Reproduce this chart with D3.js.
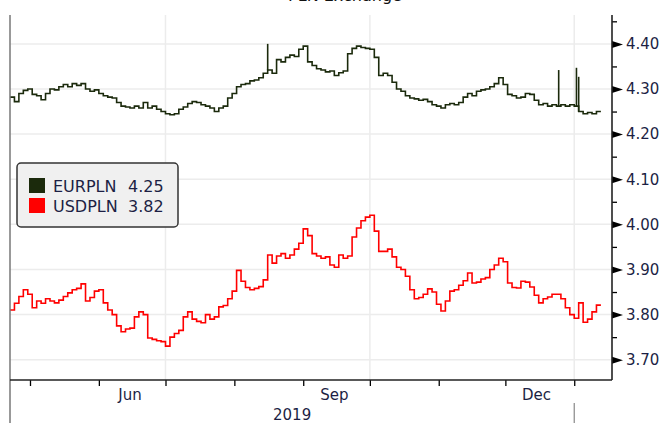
<!DOCTYPE html>
<html>
<head>
<meta charset="utf-8">
<script src="https://cdn.jsdelivr.net/npm/d3@7"></script>
<style>
  body { margin: 0; background: #fff; }
  svg { display: block; font-family: "DejaVu Sans", Verdana, sans-serif; }
</style>
</head>
<body>
<div id="chart"></div>
<script>
// one value every 2 days, starting 2019-04-22
const startDay = new Date(2019, 3, 22);
const stepDays = 2;

const eurpln = [
  4.282, 4.272, 4.290, 4.297, 4.300, 4.288, 4.285, 4.276, 4.290, 4.300,
  4.298, 4.305, 4.310, 4.305, 4.312, 4.308, 4.312, 4.300, 4.295, 4.298,
  4.290, 4.285, 4.282, 4.280, 4.270, 4.262, 4.260, 4.258, 4.262, 4.258,
  4.270, 4.258, 4.262, 4.255, 4.250, 4.245, 4.243, 4.245, 4.255, 4.260,
  4.268, 4.272, 4.270, 4.265, 4.262, 4.258, 4.250, 4.258, 4.262, 4.280,
  4.290, 4.305, 4.310, 4.312, 4.318, 4.320, 4.325, 4.335, 4.342, 4.335,
  4.365, 4.360, 4.370, 4.375, 4.372, 4.388, 4.395, 4.360, 4.352, 4.345,
  4.342, 4.338, 4.340, 4.330, 4.336, 4.340, 4.378, 4.390, 4.395, 4.392,
  4.390, 4.388, 4.370, 4.330, 4.335, 4.330, 4.315, 4.300, 4.295, 4.285,
  4.280, 4.278, 4.275, 4.277, 4.272, 4.265, 4.262, 4.258, 4.265, 4.268,
  4.265, 4.270, 4.282, 4.290, 4.285, 4.295, 4.298, 4.300, 4.305, 4.312,
  4.325, 4.310, 4.288, 4.285, 4.280, 4.282, 4.290, 4.288, 4.275, 4.265,
  4.268, 4.262, 4.265, 4.262, 4.265, 4.262, 4.265, 4.262, 4.250, 4.245,
  4.248, 4.245, 4.250, 4.250
];

const usdpln = [
  3.810, 3.825, 3.840, 3.855, 3.845, 3.815, 3.830, 3.825, 3.835, 3.830,
  3.826, 3.832, 3.840, 3.848, 3.855, 3.858, 3.868, 3.830, 3.838, 3.852,
  3.855, 3.826, 3.810, 3.800, 3.775, 3.762, 3.768, 3.770, 3.795, 3.806,
  3.800, 3.748, 3.745, 3.742, 3.740, 3.730, 3.750, 3.758, 3.765, 3.795,
  3.806, 3.790, 3.785, 3.782, 3.800, 3.790, 3.795, 3.817, 3.820, 3.835,
  3.852, 3.898, 3.874, 3.860, 3.855, 3.858, 3.862, 3.877, 3.932, 3.914,
  3.930, 3.935, 3.925, 3.932, 3.945, 3.958, 3.990, 3.975, 3.935, 3.930,
  3.925, 3.928, 3.910, 3.905, 3.932, 3.925, 3.930, 3.972, 3.992, 4.008,
  4.016, 4.020, 3.985, 3.940, 3.940, 3.945, 3.928, 3.905, 3.900, 3.885,
  3.855, 3.835, 3.838, 3.845, 3.857, 3.850, 3.823, 3.808, 3.830, 3.852,
  3.855, 3.865, 3.875, 3.892, 3.870, 3.872, 3.879, 3.882, 3.900, 3.910,
  3.925, 3.917, 3.870, 3.860, 3.859, 3.874, 3.872, 3.861, 3.843, 3.826,
  3.835, 3.839, 3.845, 3.845, 3.835, 3.815, 3.800, 3.792, 3.826, 3.783,
  3.790, 3.806, 3.821, 3.821
];

// intraday highs of EURPLN that stick out of the line
const eurSpikeDays = ['2019-08-16', '2019-12-25', '2020-01-02', '2020-01-03'];
const eurSpikeHighs = [4.400, 4.342, 4.347, 4.327];

const seriesNames = ['EURPLN', 'USDPLN'];
const seriesColors = ['#1b2a0c', '#ff0000'];
const lastValues = ['4.25', '3.82'];

const yTicks = [3.70, 3.80, 3.90, 4.00, 4.10, 4.20, 4.30, 4.40];
const yMinorTicks = [3.75, 3.85, 3.95, 4.05, 4.15, 4.25, 4.35, 4.45];
const monthLabels = ['Jun', 'Sep', 'Dec'];
const yearLabel = '2019';
const titleText = 'PLN Exchange';

const W = 660, H = 423;
const box = { left: 10, right: 612, top: 15, bottom: 380 };

const svg = d3.select('#chart').append('svg')
  .attr('width', W).attr('height', H);

const x = d3.scaleTime()
  .domain([new Date(2019, 3, 22), new Date(2020, 0, 18)])
  .range([box.left, box.right]);

const y = d3.scaleLinear()
  .domain([3.655, 4.464])
  .range([box.bottom, box.top]);

const dates = eurpln.map((_, i) => d3.timeDay.offset(startDay, i * stepDays));
const parseDay = d3.timeParse('%Y-%m-%d');

// title (clipped at the top edge)
svg.append('text')
  .attr('x', 345).attr('y', 1)
  .attr('text-anchor', 'middle')
  .attr('font-size', 16)
  .attr('fill', '#111')
  .text(titleText);

// grid
const grid = svg.append('g');
grid.selectAll('line.h')
  .data(yTicks)
  .enter().append('line')
  .attr('x1', box.left).attr('x2', box.right)
  .attr('y1', d => y(d)).attr('y2', d => y(d))
  .attr('stroke', '#ececec').attr('stroke-width', 1.5);

const quarterLines = [new Date(2019, 6, 1), new Date(2019, 9, 1), new Date(2020, 0, 1)];
grid.selectAll('line.v')
  .data(quarterLines)
  .enter().append('line')
  .attr('x1', d => x(d)).attr('x2', d => x(d))
  .attr('y1', box.top).attr('y2', box.bottom)
  .attr('stroke', '#ececec').attr('stroke-width', 1.5);

// lines
const line = d3.line()
  .x((d, i) => x(dates[i]))
  .y(d => y(d))
  .curve(d3.curveStepAfter);

[eurpln, usdpln].forEach((vals, k) => {
  svg.append('path')
    .datum(vals)
    .attr('d', line)
    .attr('fill', 'none')
    .attr('stroke', seriesColors[k])
    .attr('stroke-width', 1.6)
    .attr('stroke-linejoin', 'miter');
});

// spikes: vertical bar from the line up to the high
const bisect = d3.bisector(d => d).right;
svg.append('g').selectAll('line')
  .data(eurSpikeDays)
  .enter().append('line')
  .attr('x1', d => x(parseDay(d))).attr('x2', d => x(parseDay(d)))
  .attr('y1', d => y(eurpln[Math.max(0, bisect(dates, parseDay(d)) - 1)]))
  .attr('y2', (d, i) => y(eurSpikeHighs[i]))
  .attr('stroke', seriesColors[0])
  .attr('stroke-width', 1.6);

// left frame line
svg.append('line')
  .attr('x1', box.left).attr('x2', box.left)
  .attr('y1', box.top).attr('y2', H)
  .attr('stroke', '#777').attr('stroke-width', 1.5);

// year separator
svg.append('line')
  .attr('x1', x(new Date(2020, 0, 1))).attr('x2', x(new Date(2020, 0, 1)))
  .attr('y1', 403).attr('y2', H)
  .attr('stroke', '#888').attr('stroke-width', 1.2);

// right axis
const yAxis = svg.append('g')
  .attr('transform', `translate(${box.right},0)`)
  .call(d3.axisRight(y).tickValues(yTicks).tickSize(0).tickPadding(14)
    .tickFormat(d3.format('.2f')));
yAxis.select('.domain').remove();
yAxis.selectAll('text')
  .attr('font-size', 15)
  .attr('font-family', '"DejaVu Sans", Verdana, sans-serif')
  .attr('fill', '#1c1f44');
yAxis.selectAll('.tick').append('path')
  .attr('d', 'M0,-3.5L11,0L0,3.5Z')
  .attr('fill', '#000');

svg.append('g')
  .attr('transform', `translate(${box.right},0)`)
  .call(d3.axisRight(y).tickValues(yMinorTicks).tickSize(5).tickFormat(''))
  .call(g => g.select('.domain').remove())
  .selectAll('line').attr('stroke', '#000').attr('stroke-width', 1.3);

svg.append('line')
  .attr('x1', box.right).attr('x2', box.right)
  .attr('y1', box.top).attr('y2', box.bottom)
  .attr('stroke', '#222').attr('stroke-width', 1.6);

// bottom axis
const xAxis = svg.append('g')
  .attr('transform', `translate(0,${box.bottom})`)
  .call(d3.axisBottom(x)
    .tickValues(d3.timeMonth.range(new Date(2019, 4, 1), new Date(2020, 0, 2)))
    .tickSize(6).tickSizeOuter(0).tickFormat(''));
xAxis.select('.domain').remove();
xAxis.selectAll('line').attr('stroke', '#000').attr('stroke-width', 1.3);

svg.append('line')
  .attr('x1', box.left).attr('x2', box.right)
  .attr('y1', box.bottom).attr('y2', box.bottom)
  .attr('stroke', '#222').attr('stroke-width', 1.6);

const labelDates = [new Date(2019, 5, 15), new Date(2019, 8, 15), new Date(2019, 11, 15)];
svg.append('g').selectAll('text')
  .data(monthLabels)
  .enter().append('text')
  .attr('x', (d, i) => x(labelDates[i]))
  .attr('y', 400)
  .attr('text-anchor', 'middle')
  .attr('font-size', 15)
  .attr('fill', '#1c1f44')
  .text(d => d);

svg.append('text')
  .attr('x', (box.left + x(new Date(2020, 0, 1))) / 2)
  .attr('y', 420)
  .attr('text-anchor', 'middle')
  .attr('font-size', 15)
  .attr('fill', '#1c1f44')
  .text(yearLabel);

// legend
const legend = svg.append('g').attr('transform', 'translate(17,163)');
legend.append('rect')
  .attr('width', 161).attr('height', 64)
  .attr('rx', 4).attr('ry', 4)
  .attr('fill', '#f0f0f0')
  .attr('stroke', '#333').attr('stroke-width', 1.5);

const items = legend.selectAll('g.item')
  .data(seriesNames)
  .enter().append('g')
  .attr('transform', (d, i) => `translate(12,${15 + i * 20})`);
items.append('rect')
  .attr('width', 16).attr('height', 15)
  .attr('fill', (d, i) => seriesColors[i]);
items.append('text')
  .attr('x', 24).attr('y', 14)
  .attr('font-size', 16)
  .attr('fill', '#1c1f44')
  .text(d => d);
items.append('text')
  .attr('x', 99).attr('y', 14)
  .attr('font-size', 16)
  .attr('fill', '#1c1f44')
  .text((d, i) => lastValues[i]);
</script>
</body>
</html>
